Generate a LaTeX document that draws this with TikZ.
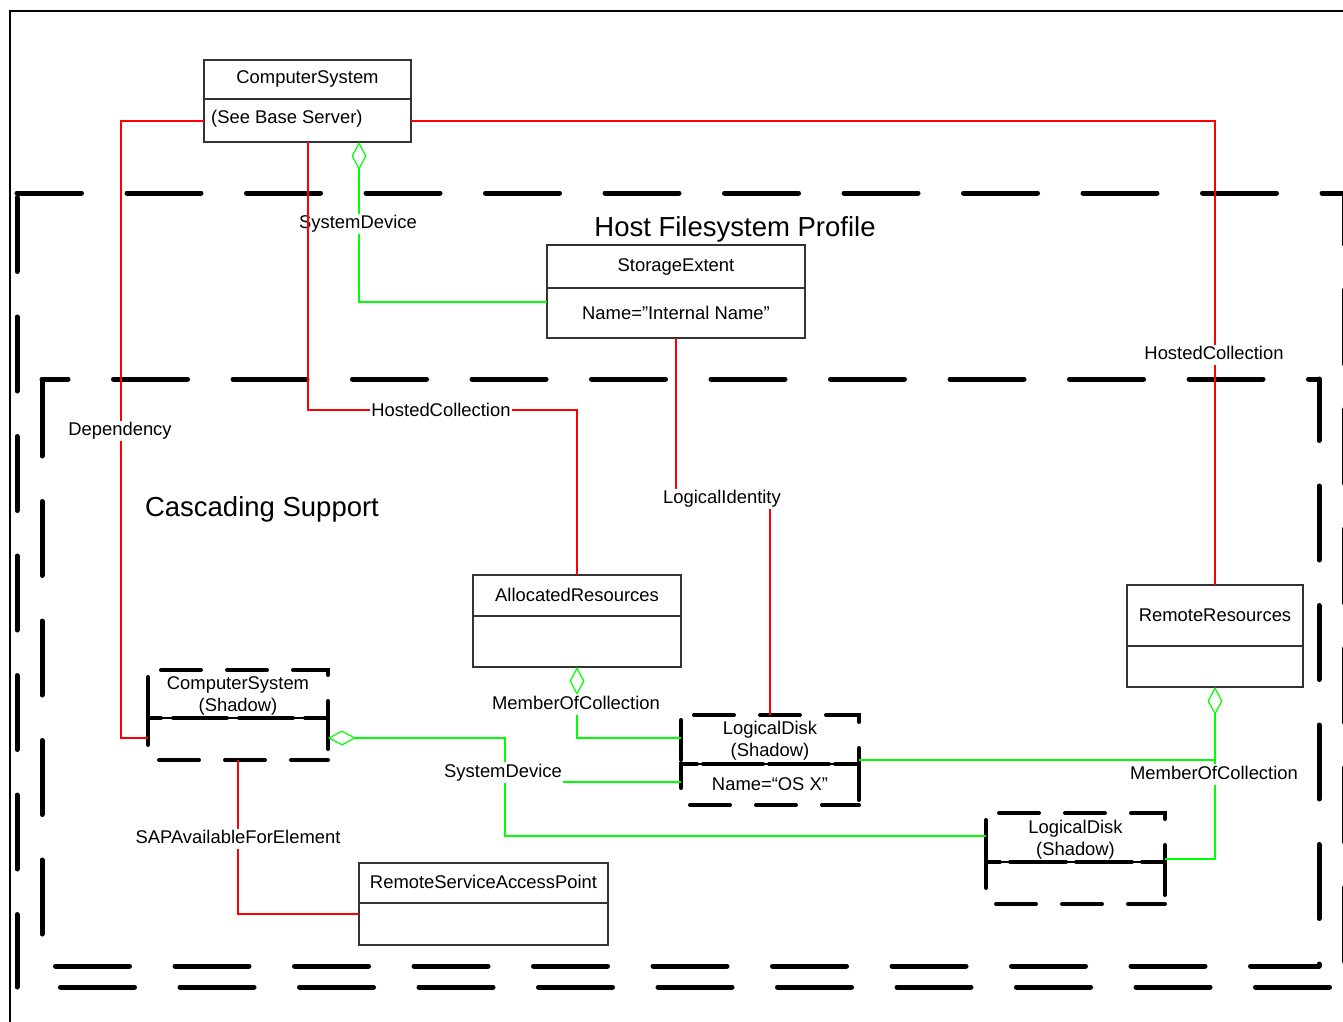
\documentclass[tikz,border=0pt]{standalone}
\usepackage{fontspec}
\setmainfont{Liberation Sans}
\usetikzlibrary{arrows.meta}
\begin{document}
\begin{tikzpicture}[x=1pt,y=-1pt,
  bigdash/.style={line width=5pt,line cap=round,dash pattern=on 74pt off 45.5pt},
  shdash/.style={line width=4pt,line cap=round,dash pattern=on 40pt off 26pt},
  box/.style={draw=black!80,line width=1.2pt,inner sep=0pt,outer sep=0pt,anchor=north west},
  sbox/.style={inner sep=0pt,outer sep=0pt,anchor=north west},
  boxln/.style={draw=black!80,line width=1.2pt},
  txt/.style={inner sep=0pt,align=center,font=\fontsize{18.4pt}{22pt}\selectfont},
  ttl/.style={inner sep=0pt,font=\fontsize{27.5pt}{33pt}\selectfont},
  lbl/.style={fill=white,inner xsep=1pt,inner ysep=1.5pt,text height=13.5pt,text depth=4pt,font=\fontsize{18.4pt}{22pt}\selectfont},
  rl/.style={draw=red,line width=1.2pt},
  gl/.style={draw=green,line width=1.2pt},
  dia/.style={arrows={Diamond[open,length=28pt,width=15pt]-}}
]
\useasboundingbox (0,0) rectangle (1343,1021);
\clip (0,0) rectangle (1343,1021);

% page frame
\draw[line width=2pt] (10,1030) -- (10,11) -- (1350,11);

% Host Filesystem Profile frame
\draw[bigdash,dash phase=9.5pt] (17,193) -- (1344.5,193);
\draw[bigdash,dash phase=22.5pt] (1344.5,193) -- (1344.5,987);
\draw[bigdash,dash phase=76pt] (17,987) -- (1344.5,987);
\draw[bigdash,dash phase=115pt] (17,193) -- (17,987);

% Cascading Support frame
\draw[bigdash,dash phase=48pt] (42,379) -- (1319,379);
\draw[bigdash,dash phase=12.5pt] (1319,379) -- (1319,966);
\draw[bigdash,dash phase=106pt] (42,966) -- (1319,966);
\draw[bigdash,dash phase=116.5pt] (42,379) -- (42,966);

\node[ttl] (hfp) at (735,229) {Host Filesystem Profile};
\node[ttl] (csup) at (262,509) {Cascading Support};

% solid boxes
\node[box,minimum width=207pt,minimum height=82pt] (cs) at (204,60) {};
\draw[boxln] (204,99) -- (411,99);
\node[txt] (cst) at (307.5,78.5) {ComputerSystem};
\node[txt,anchor=west] (csb) at (211,118.5) {(See Base Server)};

\node[box,minimum width=258pt,minimum height=93pt] (se) at (547,245) {};
\draw[boxln] (547,288) -- (805,288);
\node[txt] (set) at (676,267) {StorageExtent};
\node[txt] (sea) at (676,313) {Name=”Internal Name”};

\node[box,minimum width=208pt,minimum height=92pt] (ar) at (473,575) {};
\draw[boxln] (473,616) -- (681,616);
\node[txt] (art) at (577,595) {AllocatedResources};

\node[box,minimum width=176pt,minimum height=102pt] (rr) at (1127,585) {};
\draw[boxln] (1127,646) -- (1303,646);
\node[txt] (rrt) at (1215,615.5) {RemoteResources};

\node[box,minimum width=249pt,minimum height=82pt] (rsap) at (359,863) {};
\draw[boxln] (359,903) -- (608,903);
\node[txt] (rst) at (483.5,881.5) {RemoteServiceAccessPoint};

% shadow boxes
\node[sbox,minimum width=180pt,minimum height=90pt] (css) at (148,670) {};
\draw[line width=1.2pt] (148,718) -- (328,718);
\draw[shdash,dash phase=53pt] (148,670) -- (328,670) -- (328,718) -- (148,718) -- cycle;
\draw[shdash,dash phase=3pt] (328,760) -- (148,760) -- (148,718) -- (328,718) -- cycle;
\node[txt] (csst) at (238,695.5) {ComputerSystem\\(Shadow)};

\node[sbox,minimum width=178pt,minimum height=90pt] (ld1) at (681,715) {};
\draw[line width=1.2pt] (681,764) -- (859,764);
\draw[shdash,dash phase=53pt] (681,715) -- (859,715) -- (859,764) -- (681,764) -- cycle;
\draw[shdash,dash phase=3pt] (859,805) -- (681,805) -- (681,764) -- (859,764) -- cycle;
\node[txt] (ld1t) at (770,740.5) {LogicalDisk\\(Shadow)};
\node[txt] (ld1a) at (770,784.5) {Name=“OS X”};

\node[sbox,minimum width=179pt,minimum height=91pt] (ld2) at (986,813) {};
\draw[line width=1.2pt] (986,862) -- (1165,862);
\draw[shdash,dash phase=53pt] (986,813) -- (1165,813) -- (1165,862) -- (986,862) -- cycle;
\draw[shdash,dash phase=3pt] (1165,904) -- (986,904) -- (986,862) -- (1165,862) -- cycle;
\node[txt] (ld2t) at (1075.5,839.5) {LogicalDisk\\(Shadow)};

% connectors
\coordinate (s1) at (359,302);
\draw[gl,dia] (cs.south -| s1) -- (s1) -- (s1 -| se.west);
\node[lbl] (lsd1) at (358,224) {SystemDevice};

\coordinate (h2) at (308,410);
\draw[rl] (cs.south -| h2) -- (h2) -| (ar.north);
\node[lbl] (lhc1) at (441,412) {HostedCollection};

\coordinate (d1) at (121,121);
\coordinate (d2) at (121,738);
\draw[rl] (d1 -| cs.west) -- (d1) -- (d2) -- (d2 -| css.west);

\coordinate (h1) at (1215,121);
\draw[rl] (h1 -| cs.east) -- (h1) -- (rr.north);

\coordinate (l1) at (676,497);
\coordinate (l2) at (770,497);
\draw[rl] (se.south) -- (l1) -- (l2) -- (ld1.north);

\coordinate (m1) at (577,738);
\draw[gl,dia] (ar.south) -- (m1) -- (m1 -| ld1.west);

\coordinate (s2) at (505,738);
\coordinate (s3) at (505,836);
\coordinate (s4) at (505,782);
\draw[gl,dia] (s2 -| css.east) -- (s2) -- (s3) -- (s3 -| ld2.west);
\draw[gl] (s4) -- (s4 -| ld1.west);

\coordinate (m2) at (1215,760);
\coordinate (m3) at (1215,859);
\draw[gl,dia] (rr.south) -- (m2) -- (m2 -| ld1.east);
\draw[gl] (m2) -- (m3) -- (m3 -| ld2.east);

\coordinate (p1) at (238,914);
\draw[rl] (css.south) -- (p1) -- (p1 -| rsap.west);

% labels
\node[lbl] (ldep) at (120,431) {Dependency};
\node[lbl] (lhc2) at (1214,355) {HostedCollection};
\node[lbl] (lli) at (722,499) {LogicalIdentity};
\node[lbl] (lmc1) at (576,704.5) {MemberOfCollection};
\node[lbl] (lsd2) at (503,772.5) {SystemDevice};
\node[lbl] (lmc2) at (1214,774.5) {MemberOfCollection};
\node[lbl] (lsap) at (238,839) {SAPAvailableForElement};
\end{tikzpicture}
\end{document}
